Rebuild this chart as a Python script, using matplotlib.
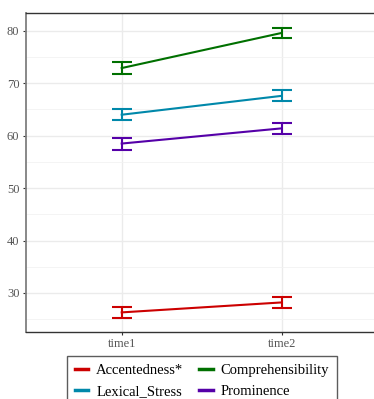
import numpy as np
import matplotlib
matplotlib.use("Agg")
import matplotlib.pyplot as plt
from matplotlib.lines import Line2D

plt.rcParams['font.family'] = ['Liberation Serif', 'DejaVu Serif']

times = ["time1", "time2"]
series = ["Accentedness*", "Comprehensibility", "Lexical_Stress", "Prominence"]
means = {
    "Accentedness*": [26.3, 28.2],
    "Comprehensibility": [72.9, 79.6],
    "Lexical_Stress": [64.0, 67.6],
    "Prominence": [58.5, 61.4],
}
errs = {
    "Accentedness*": [1.05, 1.05],
    "Comprehensibility": [1.1, 0.95],
    "Lexical_Stress": [1.1, 1.05],
    "Prominence": [1.15, 1.05],
}
colors = {
    "Accentedness*": "#CC0000",
    "Comprehensibility": "#007000",
    "Lexical_Stress": "#0088AA",
    "Prominence": "#5500A8",
}

fig = plt.figure(figsize=(3.74, 3.99), dpi=100)
W, H = 374, 399
ax = fig.add_axes([25.7 / W, 1 - 332 / H, (377.7 - 25.7) / W, (332 - 13) / H])

x = np.arange(len(times)) + 1
for s in series:
    ax.plot(x, means[s], color=colors[s], lw=1.5, zorder=3)
    ax.errorbar(x, means[s], yerr=errs[s], fmt="none", ecolor=colors[s],
                elinewidth=1.5, capsize=7.5, capthick=1.5, zorder=3)

ax.set_xlim(0.4, 2.6)
ax.set_ylim(22.56, 83.4)
ax.set_xticks(x)
ax.set_xticklabels(times)
ax.set_yticks(np.arange(30, 81, 10))
ax.set_yticks(np.arange(25, 81, 10), minor=True)
ax.grid(True, which="major", color="#EBEBEB", lw=1.0, zorder=0)
ax.grid(True, which="minor", axis="y", color="#F2F2F2", lw=0.6, zorder=0)
ax.tick_params(axis="both", which="major", labelsize=9, labelcolor="#555555",
               color="#333333", length=2.5, width=0.8, pad=2)
ax.tick_params(axis="y", which="minor", length=0)
ax.spines["left"].set_color("#7F7F7F")
ax.spines["left"].set_linewidth(1.3)
ax.spines["top"].set_color("#333333")
ax.spines["bottom"].set_color("#333333")
ax.spines["right"].set_visible(False)
for sp in ["top", "bottom"]:
    ax.spines[sp].set_linewidth(1.0)

# row-major order like the reference: matplotlib fills columns first
order = [series[0], series[2], series[1], series[3]]
handles = [Line2D([0], [0], color=colors[s], lw=2.5) for s in order]
leg = fig.legend(handles, order, ncol=2, loc="upper left",
                 bbox_to_anchor=(67 / W, 1 - 356 / H), borderaxespad=0,
                 frameon=True, fontsize=10.5, handlelength=0.9,
                 handletextpad=0.55, columnspacing=1.1, borderpad=0.55,
                 labelspacing=0.55, fancybox=False)
leg.get_frame().set_edgecolor("#333333")
leg.get_frame().set_linewidth(1.0)

fig.savefig("out.png", dpi=100)
